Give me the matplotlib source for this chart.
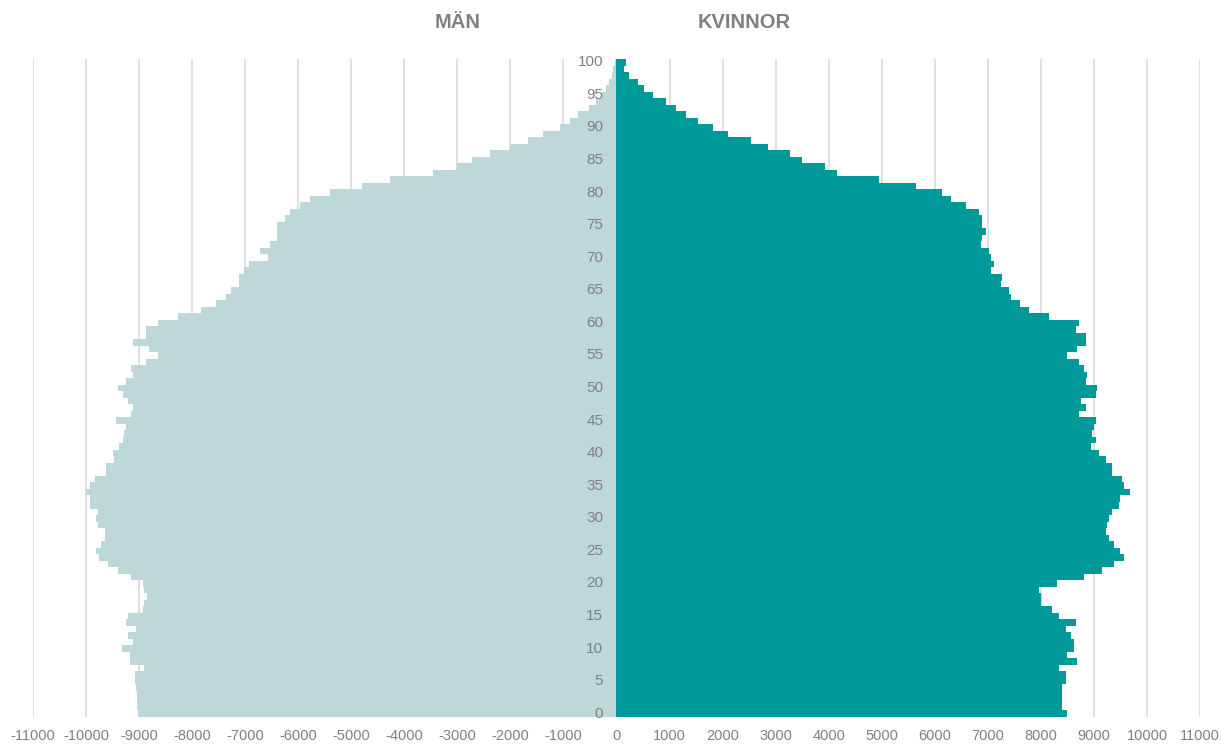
import matplotlib
matplotlib.use("Agg")
import matplotlib.pyplot as plt
import numpy as np

ages = list(range(0, 101))

men = [9020, 9030, 9030, 9040, 9050, 9070, 9080, 8900, 9175, 9175,
       9330, 9120, 9210, 9055, 9240, 9210, 8930, 8900, 8860, 8900,
       8930, 9150, 9400, 9590, 9750, 9810, 9710, 9650, 9650, 9780,
       9810, 9780, 9930, 9930, 10000, 9930, 9840, 9620, 9630, 9480,
       9495, 9370, 9306, 9290, 9250, 9430, 9150, 9120, 9210, 9306,
       9400, 9243, 9118, 9150, 8866, 8647, 8804, 9118, 8866, 8866,
       8645, 8268, 7828, 7542, 7354, 7260, 7122, 7122, 7028, 6934,
       6569, 6714, 6525, 6400, 6400, 6400, 6243, 6149, 5960, 5772,
       5400, 4805, 4272, 3450, 3010, 2727, 2382, 2006, 1661, 1379,
       1064, 876, 719, 512, 386, 279, 198, 147, 90, 60,
       28]

women = [8500, 8406, 8406, 8406, 8406, 8468, 8468, 8343, 8687, 8500,
         8625, 8625, 8562, 8468, 8656, 8343, 8218, 8000, 8000, 7968,
         8312, 8812, 9157, 9376, 9563, 9500, 9376, 9282, 9220, 9250,
         9282, 9345, 9470, 9500, 9688, 9563, 9532, 9345, 9345, 9220,
         9094, 8938, 9032, 8970, 9000, 9032, 8719, 8844, 8750, 9032,
         9063, 8844, 8875, 8812, 8719, 8500, 8688, 8844, 8844, 8657,
         8715, 8150, 7775, 7615, 7428, 7396, 7240, 7270, 7053, 7115,
         7053, 7021, 6864, 6895, 6958, 6895, 6895, 6832, 6582, 6300,
         6144, 5644, 4956, 4149, 3929, 3488, 3267, 2858, 2543, 2102,
         1818, 1535, 1314, 1125, 936, 696, 526, 400, 243, 148,
         180]

xticks = list(range(-11000, 11001, 1000))
age_labels = list(range(0, 101, 5))

men_color = "#BED7D8"
women_color = "#00999A"
text_color = "#808080"
grid_color = "#D9D9D9"

plt.rcParams['font.family'] = ['Liberation Sans', 'DejaVu Sans']

fig = plt.figure(figsize=(12.22, 7.45), dpi=100)
ax = fig.add_axes([33 / 1222, (745 - 717) / 745, (1200 - 33) / 1222, (717 - 59) / 745])

ax.barh(ages, [-m for m in men], height=1.0, color=men_color, linewidth=0, zorder=2)
ax.barh(ages, women, height=1.0, color=women_color, linewidth=0, zorder=2)

ax.set_xlim(-11000, 11000)
ax.set_ylim(-0.5, 100.5)
ax.set_xticks(xticks)
ax.set_xticklabels([str(t) for t in xticks], color=text_color, fontsize=10.5)
ax.tick_params(axis='x', length=0, pad=9)
ax.set_yticks([])
ax.xaxis.grid(True, color=grid_color, linewidth=1.2, zorder=0)
ax.set_axisbelow(True)
for s in ax.spines.values():
    s.set_visible(False)

for a in age_labels:
    ax.text(-250, a, str(a), ha='right', va='center', color=text_color,
            fontsize=11, zorder=5)

fig.text(458 / 1222, 1 - 22 / 745, "MÄN", ha='center', va='center',
         color=text_color, fontsize=14.5, fontweight='bold')
fig.text(744 / 1222, 1 - 22 / 745, "KVINNOR", ha='center', va='center',
         color=text_color, fontsize=14.5, fontweight='bold')

fig.savefig("out.png", dpi=100)
